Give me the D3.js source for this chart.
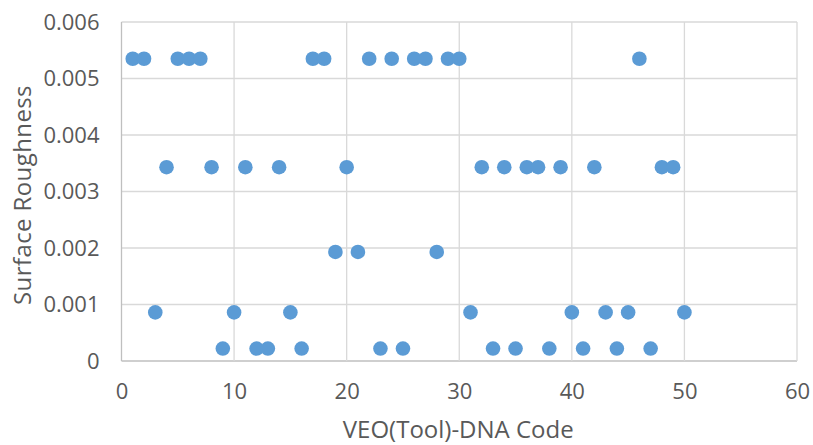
<!DOCTYPE html>
<html>
<head>
<meta charset="utf-8">
<script src="https://cdn.jsdelivr.net/npm/d3@7"></script>
<style>
  body { margin: 0; background: #fff; }
  text { font-family: "Open Sans", sans-serif; fill: #595959; }
</style>
</head>
<body>
<div id="chart"></div>
<script>
// tool codes 1..50 and their surface roughness
var codes = [1, 2, 3, 4, 5, 6, 7, 8, 9, 10, 11, 12, 13, 14, 15, 16, 17, 18, 19, 20,
  21, 22, 23, 24, 25, 26, 27, 28, 29, 30, 31, 32, 33, 34, 35, 36, 37, 38, 39, 40,
  41, 42, 43, 44, 45, 46, 47, 48, 49, 50];
var roughness = [
  0.00535, 0.00535, 0.00086, 0.00343, 0.00535, 0.00535, 0.00535, 0.00343, 0.00022, 0.00086,
  0.00343, 0.00022, 0.00022, 0.00343, 0.00086, 0.00022, 0.00535, 0.00535, 0.00193, 0.00343,
  0.00193, 0.00535, 0.00022, 0.00535, 0.00022, 0.00535, 0.00535, 0.00193, 0.00535, 0.00535,
  0.00086, 0.00343, 0.00022, 0.00343, 0.00022, 0.00343, 0.00343, 0.00022, 0.00343, 0.00086,
  0.00022, 0.00343, 0.00086, 0.00022, 0.00086, 0.00535, 0.00022, 0.00343, 0.00343, 0.00086
];
var xTicks = [0, 10, 20, 30, 40, 50, 60];
var yTicks = [0, 0.001, 0.002, 0.003, 0.004, 0.005, 0.006];

var width = 813;
var height = 445;
var margin = {left: 121.5, right: 16, top: 22, bottom: 84};

var svg = d3.select('#chart')
  .append('svg')
  .attr('width', width)
  .attr('height', height);

var x = d3.scaleLinear().domain([0, 60]).range([margin.left, width - margin.right]);
var y = d3.scaleLinear().domain([0, 0.006]).range([height - margin.bottom, margin.top]);

// grid
svg.append('g')
  .selectAll('line.h')
  .data(yTicks)
  .enter()
  .append('line')
  .attr('x1', x(0)).attr('x2', x(60))
  .attr('y1', function(d) { return y(d); })
  .attr('y2', function(d) { return y(d); })
  .attr('stroke', function(d) { return d === 0 ? '#bfbfbf' : '#d9d9d9'; })
  .attr('stroke-width', 1.3);

svg.append('g')
  .selectAll('line.v')
  .data(xTicks)
  .enter()
  .append('line')
  .attr('y1', y(0)).attr('y2', y(0.006))
  .attr('x1', function(d) { return x(d); })
  .attr('x2', function(d) { return x(d); })
  .attr('stroke', function(d) { return d === 0 ? '#bfbfbf' : '#d9d9d9'; })
  .attr('stroke-width', 1.3);

// axes labels
var xAxis = d3.axisBottom(x).tickValues(xTicks).tickSize(0).tickPadding(22);
var gx = svg.append('g')
  .attr('transform', 'translate(0,' + y(0) + ')')
  .call(xAxis);
gx.select('.domain').remove();
gx.selectAll('text').style('font-size', '22px').attr('fill', '#595959');

var yAxis = d3.axisLeft(y).tickValues(yTicks).tickSize(0).tickPadding(22)
  .tickFormat(function(d) { return d === 0 ? '0' : d3.format('.3f')(d); });
var gy = svg.append('g')
  .attr('transform', 'translate(' + x(0) + ',0)')
  .call(yAxis);
gy.select('.domain').remove();
gy.selectAll('text').style('font-size', '22px').attr('fill', '#595959');

// points
svg.append('g')
  .selectAll('circle')
  .data(codes)
  .enter()
  .append('circle')
  .attr('cx', function(d) { return x(d); })
  .attr('cy', function(d, i) { return y(roughness[i]); })
  .attr('r', 7.3)
  .attr('fill', '#5b9bd5');

// titles
svg.append('text')
  .attr('x', (x(0) + x(60)) / 2 - 1)
  .attr('y', 438)
  .attr('text-anchor', 'middle')
  .style('font-size', '24px')
  .text('VEO(Tool)-DNA Code');

svg.append('text')
  .attr('transform', 'translate(31,195) rotate(-90)')
  .attr('text-anchor', 'middle')
  .style('font-size', '24px')
  .style('letter-spacing', '0.4px')
  .text('Surface Roughness');
</script>
</body>
</html>
